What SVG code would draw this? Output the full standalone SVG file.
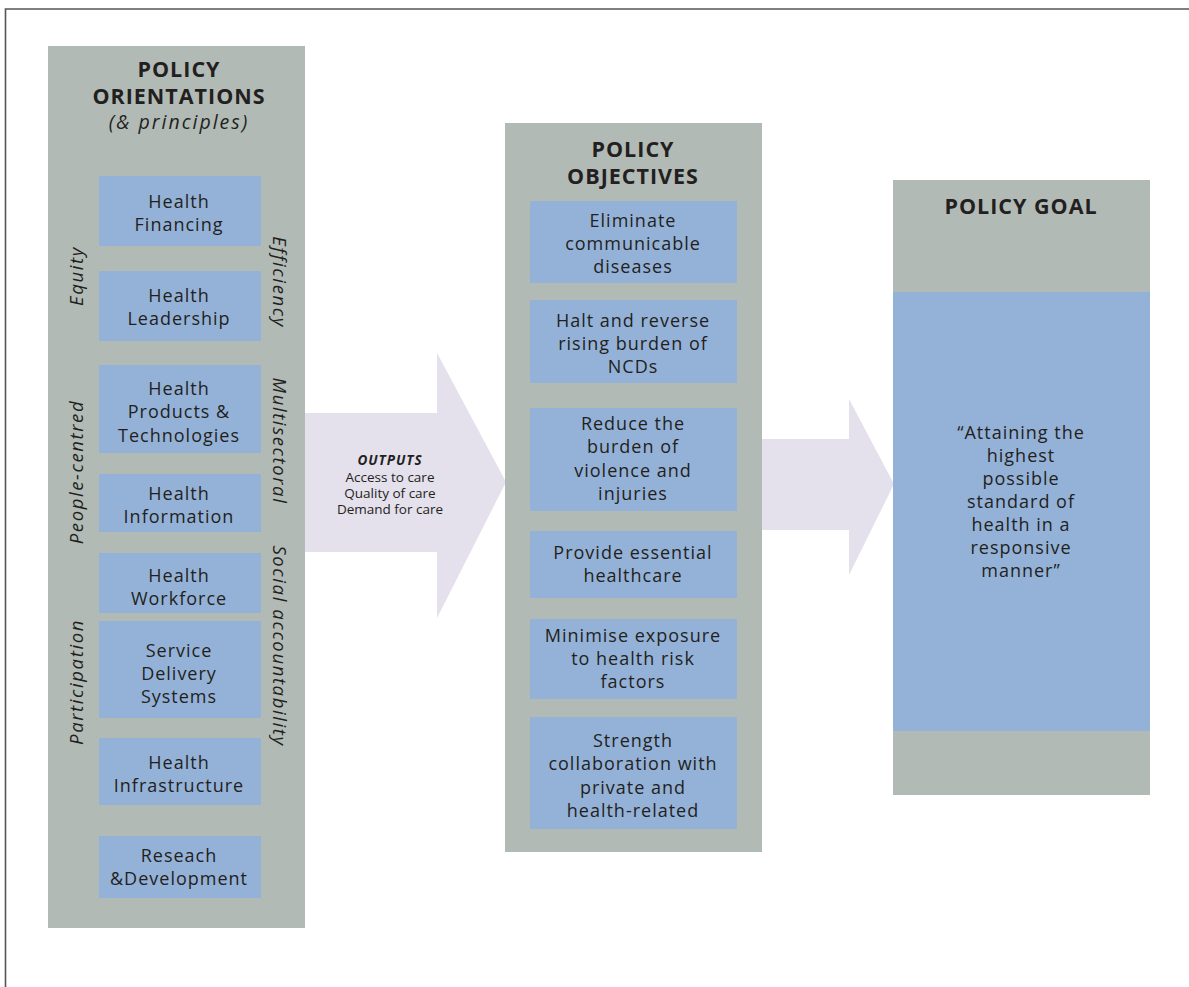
<svg xmlns="http://www.w3.org/2000/svg" width="1189" height="987" viewBox="0 0 1189 987">
<style>
.panel{fill:#b2bab6}
.box{fill:#94b2d8}
.arrow{fill:#e4e0ec}
text{font-family:"Open Sans","Liberation Sans",sans-serif;fill:#231f20}
.t{font-size:18px;letter-spacing:1px;text-anchor:middle}
.h{font-size:21.5px;font-weight:bold;letter-spacing:1px;text-anchor:middle}
.side{font-size:18.5px;font-style:italic;letter-spacing:1.6px;text-anchor:middle}
.out{font-size:13.5px;text-anchor:middle}
</style>
<rect width="1189" height="987" fill="#ffffff"/>
<path d="M5.5,987 V9 H1189" fill="none" stroke="#555555" stroke-width="1.6"/>

<g id="connectors">
  <polygon class="arrow" points="300,413 437,413 437,353 506,482 437,618 437,552 300,552"/>
  <polygon class="arrow" points="758,439 849,439 849,399 894,484 849,575 849,530 758,530"/>
</g>

<g id="outputs-label">
  <text class="out" x="390" y="465" style="font-weight:bold;font-style:italic;letter-spacing:1px">OUTPUTS</text>
  <text class="out" x="390" y="482">Access to care</text>
  <text class="out" x="390" y="498">Quality of care</text>
  <text class="out" x="390" y="514">Demand for care</text>
</g>

<g id="policy-orientations">
  <rect class="panel" x="48" y="46" width="257" height="882"/>
  <text class="h" x="179" y="77">POLICY</text>
  <text class="h" x="179" y="104">ORIENTATIONS</text>
  <text class="side" x="179" y="129" style="font-size:19.5px;letter-spacing:2px">(&amp; principles)</text>
  <text class="side" transform="translate(83,276) rotate(-90)">Equity</text>
  <text class="side" transform="translate(83,472) rotate(-90)">People-centred</text>
  <text class="side" transform="translate(83,682) rotate(-90)">Participation</text>
  <text class="side" transform="translate(273,282) rotate(90)">Efficiency</text>
  <text class="side" transform="translate(273,441) rotate(90)">Multisectoral</text>
  <text class="side" transform="translate(273,646) rotate(90)">Social accountability</text>
</g>

<g id="health-financing">
  <rect class="box" x="99" y="176" width="162" height="70"/>
  <text class="t" x="179" y="208">Health</text>
  <text class="t" x="179" y="231">Financing</text>
</g>
<g id="health-leadership">
  <rect class="box" x="99" y="271" width="162" height="70"/>
  <text class="t" x="179" y="302">Health</text>
  <text class="t" x="179" y="325">Leadership</text>
</g>
<g id="health-products">
  <rect class="box" x="99" y="365" width="162" height="88"/>
  <text class="t" x="179" y="395">Health</text>
  <text class="t" x="179" y="418">Products &amp;</text>
  <text class="t" x="179" y="442">Technologies</text>
</g>
<g id="health-information">
  <rect class="box" x="99" y="474" width="162" height="58"/>
  <text class="t" x="179" y="500">Health</text>
  <text class="t" x="179" y="523">Information</text>
</g>
<g id="health-workforce">
  <rect class="box" x="99" y="553" width="162" height="60"/>
  <text class="t" x="179" y="582">Health</text>
  <text class="t" x="179" y="605">Workforce</text>
</g>
<g id="service-delivery">
  <rect class="box" x="99" y="621" width="162" height="97"/>
  <text class="t" x="179" y="657">Service</text>
  <text class="t" x="179" y="680">Delivery</text>
  <text class="t" x="179" y="703">Systems</text>
</g>
<g id="health-infrastructure">
  <rect class="box" x="99" y="738" width="162" height="67"/>
  <text class="t" x="179" y="769">Health</text>
  <text class="t" x="179" y="792">Infrastructure</text>
</g>
<g id="research-development">
  <rect class="box" x="99" y="836" width="162" height="62"/>
  <text class="t" x="179" y="862">Reseach</text>
  <text class="t" x="179" y="885">&amp;Development</text>
</g>

<g id="policy-objectives">
  <rect class="panel" x="505" y="123" width="257" height="729"/>
  <text class="h" x="633" y="157">POLICY</text>
  <text class="h" x="633" y="184">OBJECTIVES</text>
</g>
<g id="obj-communicable">
  <rect class="box" x="530" y="201" width="207" height="82"/>
  <text class="t" x="633" y="227">Eliminate</text>
  <text class="t" x="633" y="250">communicable</text>
  <text class="t" x="633" y="273">diseases</text>
</g>
<g id="obj-ncds">
  <rect class="box" x="530" y="300" width="207" height="83"/>
  <text class="t" x="633" y="327">Halt and reverse</text>
  <text class="t" x="633" y="350">rising burden of</text>
  <text class="t" x="633" y="373">NCDs</text>
</g>
<g id="obj-violence">
  <rect class="box" x="530" y="408" width="207" height="103"/>
  <text class="t" x="633" y="430">Reduce the</text>
  <text class="t" x="633" y="453">burden of</text>
  <text class="t" x="633" y="477">violence and</text>
  <text class="t" x="633" y="500">injuries</text>
</g>
<g id="obj-healthcare">
  <rect class="box" x="530" y="531" width="207" height="67"/>
  <text class="t" x="633" y="559">Provide essential</text>
  <text class="t" x="633" y="582">healthcare</text>
</g>
<g id="obj-risk">
  <rect class="box" x="530" y="619" width="207" height="80"/>
  <text class="t" x="633" y="642">Minimise exposure</text>
  <text class="t" x="633" y="665">to health risk</text>
  <text class="t" x="633" y="688">factors</text>
</g>
<g id="obj-collaboration">
  <rect class="box" x="530" y="717" width="207" height="112"/>
  <text class="t" x="633" y="747">Strength</text>
  <text class="t" x="633" y="770">collaboration with</text>
  <text class="t" x="633" y="794">private and</text>
  <text class="t" x="633" y="817">health-related</text>
</g>

<g id="policy-goal">
  <rect class="panel" x="893" y="180" width="257" height="615"/>
  <rect class="box" x="893" y="292" width="257" height="439"/>
  <text class="h" x="1021" y="214">POLICY GOAL</text>
  <text class="t" x="1021" y="439">“Attaining the</text>
  <text class="t" x="1021" y="462">highest</text>
  <text class="t" x="1021" y="485">possible</text>
  <text class="t" x="1021" y="508">standard of</text>
  <text class="t" x="1021" y="531">health in a</text>
  <text class="t" x="1021" y="554">responsive</text>
  <text class="t" x="1021" y="577">manner”</text>
</g>
</svg>
